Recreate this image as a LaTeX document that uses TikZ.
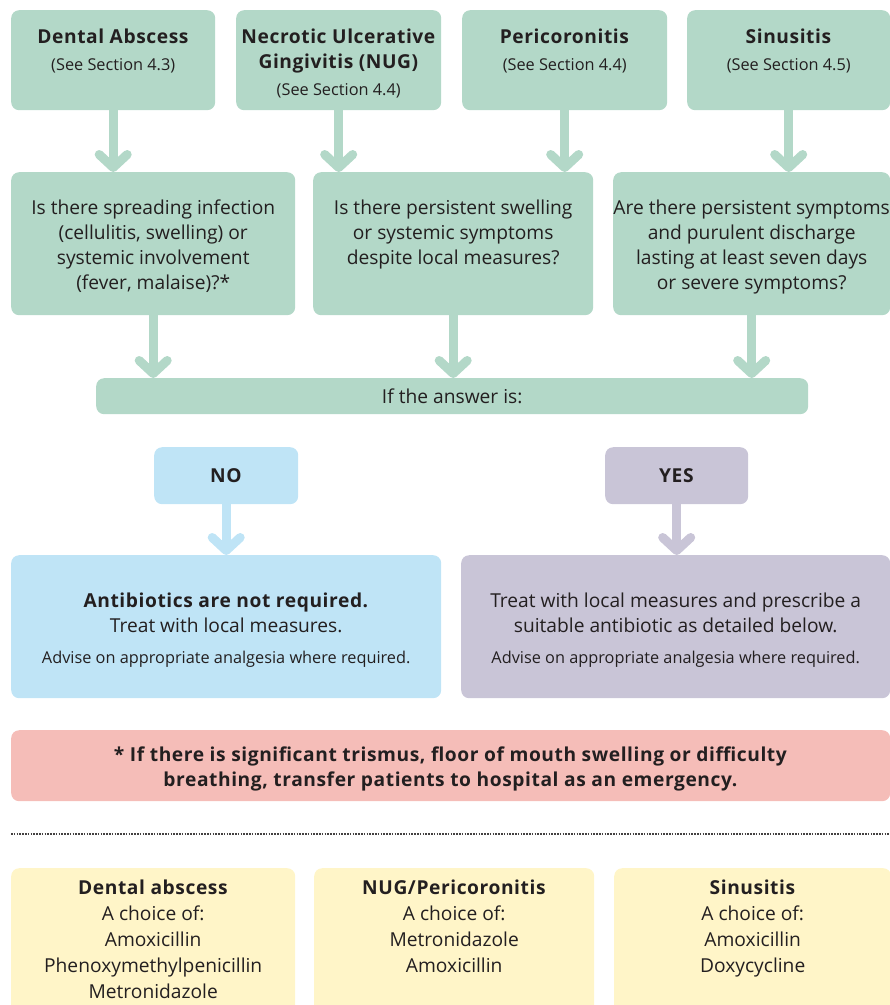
\documentclass[tikz,border=0pt]{standalone}
\usepackage{fontspec}
\setmainfont{Open Sans}[BoldFeatures={LetterSpace=3}]
\usepackage{tikz}
\usetikzlibrary{arrows.meta}
\definecolor{sage}{HTML}{B3D8C8}
\definecolor{skyblue}{HTML}{BFE4F6}
\definecolor{lilac}{HTML}{C9C5D7}
\definecolor{rose}{HTML}{F5BDB8}
\definecolor{cream}{HTML}{FFF5C8}
\definecolor{ink}{HTML}{231F20}
\newcommand{\bodyfont}{\fontsize{19.2}{25}\selectfont}
\newcommand{\listfont}{\fontsize{19.2}{26}\selectfont}
\newcommand{\notefont}{\fontsize{16.3}{19}\selectfont}
\tikzstyle{block} = [rectangle, rounded corners=8pt, anchor=north west,
    inner sep=0pt, text=ink, align=center, font=\bodyfont]
\tikzstyle{caption} = [anchor=north, inner sep=0pt, text=ink,
    align=center, font=\bodyfont]
\tikzstyle{flow} = [line width=9pt,
    -{Straight Barb[length=13pt, width=28pt, round]}]

\begin{document}
\begin{tikzpicture}[x=1pt, y=-1pt]
    \useasboundingbox (0,0) rectangle (890,1005);
    % We start by placing the four conditions
    \node [block, fill=sage, minimum width=204pt, minimum height=100pt] (abscess) at (11,10) {};
    \node [block, fill=sage, minimum width=205pt, minimum height=100pt] (nug) at (236,10) {};
    \node [block, fill=sage, minimum width=205pt, minimum height=100pt] (perico) at (462,10) {};
    \node [block, fill=sage, minimum width=203pt, minimum height=100pt] (sinus) at (687,10) {};
    \node [caption] (abscessT) at ([yshift=-18.5pt]abscess.north)
        {\textbf{Dental Abscess}\\[2.5pt]{\notefont (See Section 4.3)}};
    \node [caption] (nugT) at ([yshift=-18.5pt]nug.north)
        {\textbf{Necrotic Ulcerative}\\\textbf{Gingivitis (NUG)}\\[2.5pt]{\notefont (See Section 4.4)}};
    \node [caption] (pericoT) at ([yshift=-18.5pt]perico.north)
        {\textbf{Pericoronitis}\\[2.5pt]{\notefont (See Section 4.4)}};
    \node [caption] (sinusT) at ([yshift=-18.5pt]sinus.north)
        {\textbf{Sinusitis}\\[2.5pt]{\notefont (See Section 4.5)}};

    % the questions
    \node [block, fill=sage, minimum width=284pt, minimum height=143pt] (ask1) at (11,172) {};
    \node [block, fill=sage, minimum width=280pt, minimum height=143pt] (ask2) at (313,172) {};
    \node [block, fill=sage, minimum width=277pt, minimum height=143pt] (ask3) at (613,172) {};
    \node [caption] (ask1T) at ([yshift=-27.5pt]ask1.north)
        {Is there spreading infection\\(cellulitis, swelling) or\\systemic involvement\\(fever, malaise)?*};
    \node [caption] (ask2T) at ([yshift=-27.5pt]ask2.north)
        {Is there persistent swelling\\or systemic symptoms\\despite local measures?};
    \node [caption] (ask3T) at ([yshift=-27.5pt]ask3.north)
        {Are there persistent symptoms\\and purulent discharge\\lasting at least seven days\\or severe symptoms?};

    \node [block, fill=sage, minimum width=712pt, minimum height=36pt] (answer) at (96,378) {If the answer is:};
    \node [block, fill=skyblue, minimum width=144pt, minimum height=57pt] (no) at (154,447) {\textbf{NO}};
    \node [block, fill=lilac, minimum width=143pt, minimum height=57pt] (yes) at (605,447) {\textbf{YES}};

    % outcomes
    \node [block, fill=skyblue, minimum width=430pt, minimum height=143pt] (local) at (11,555) {};
    \node [block, fill=lilac, minimum width=429pt, minimum height=143pt] (treat) at (461,555) {};
    \node [caption] (localT) at ([yshift=-38pt]local.north)
        {\textbf{Antibiotics are not required.}\\Treat with local measures.\\[6pt]
         {\notefont Advise on appropriate analgesia where required.}};
    \node [caption] (treatT) at ([yshift=-38pt]treat.north)
        {Treat with local measures and prescribe a\\suitable antibiotic as detailed below.\\[6pt]
         {\notefont Advise on appropriate analgesia where required.}};
    \node [block, fill=rose, minimum width=879pt, minimum height=71pt] (alert) at (11,730) {};
    \node [caption] (alertT) at ([yshift=-16.5pt]alert.north)
        {\textbf{* If there is significant trismus, floor of mouth swelling or difficulty}\\
         \textbf{breathing, transfer patients to hospital as an emergency.}};

    \draw [line width=2.5pt, color=ink!85, dash pattern=on 1.6pt off 1.2pt] (11,834) -- (890,834);

    % the antibiotic choices, cut by the page edge
    \node [block, fill=cream, minimum width=284pt, minimum height=150pt] (drugA) at (11,868) {};
    \node [block, fill=cream, minimum width=280pt, minimum height=150pt] (drugB) at (314,868) {};
    \node [block, fill=cream, minimum width=277pt, minimum height=150pt] (drugC) at (614,868) {};
    \node [caption, font=\listfont] (drugAT) at ([yshift=-11.5pt]drugA.north)
        {\textbf{Dental abscess}\\A choice of:\\Amoxicillin\\Phenoxymethylpenicillin\\Metronidazole};
    \node [caption, font=\listfont] (drugBT) at ([yshift=-11.5pt]drugB.north)
        {\textbf{NUG/Pericoronitis}\\A choice of:\\Metronidazole\\Amoxicillin};
    \node [caption, font=\listfont] (drugCT) at ([yshift=-11.5pt]drugC.north)
        {\textbf{Sinusitis}\\A choice of:\\Amoxicillin\\Doxycycline};

    % Once the nodes are placed, connecting them is easy.
    \draw [flow, sage] (abscess.south) -- (abscess.south |- ask1.north);
    \draw [flow, sage] (nug.south) -- (nug.south |- ask2.north);
    \draw [flow, sage] (perico.south) -- (perico.south |- ask2.north);
    \draw [flow, sage] (sinus.south) -- (sinus.south |- ask3.north);
    \draw [flow, sage] (ask1.south) -- (ask1.south |- answer.north);
    \draw [flow, sage] (ask2.south) -- (ask2.south |- answer.north);
    \draw [flow, sage] (ask3.south) -- (ask3.south |- answer.north);
    \draw [flow, skyblue] (no.south) -- (no.south |- local.north);
    \draw [flow, lilac] (yes.south) -- (yes.south |- treat.north);
\end{tikzpicture}
\end{document}
